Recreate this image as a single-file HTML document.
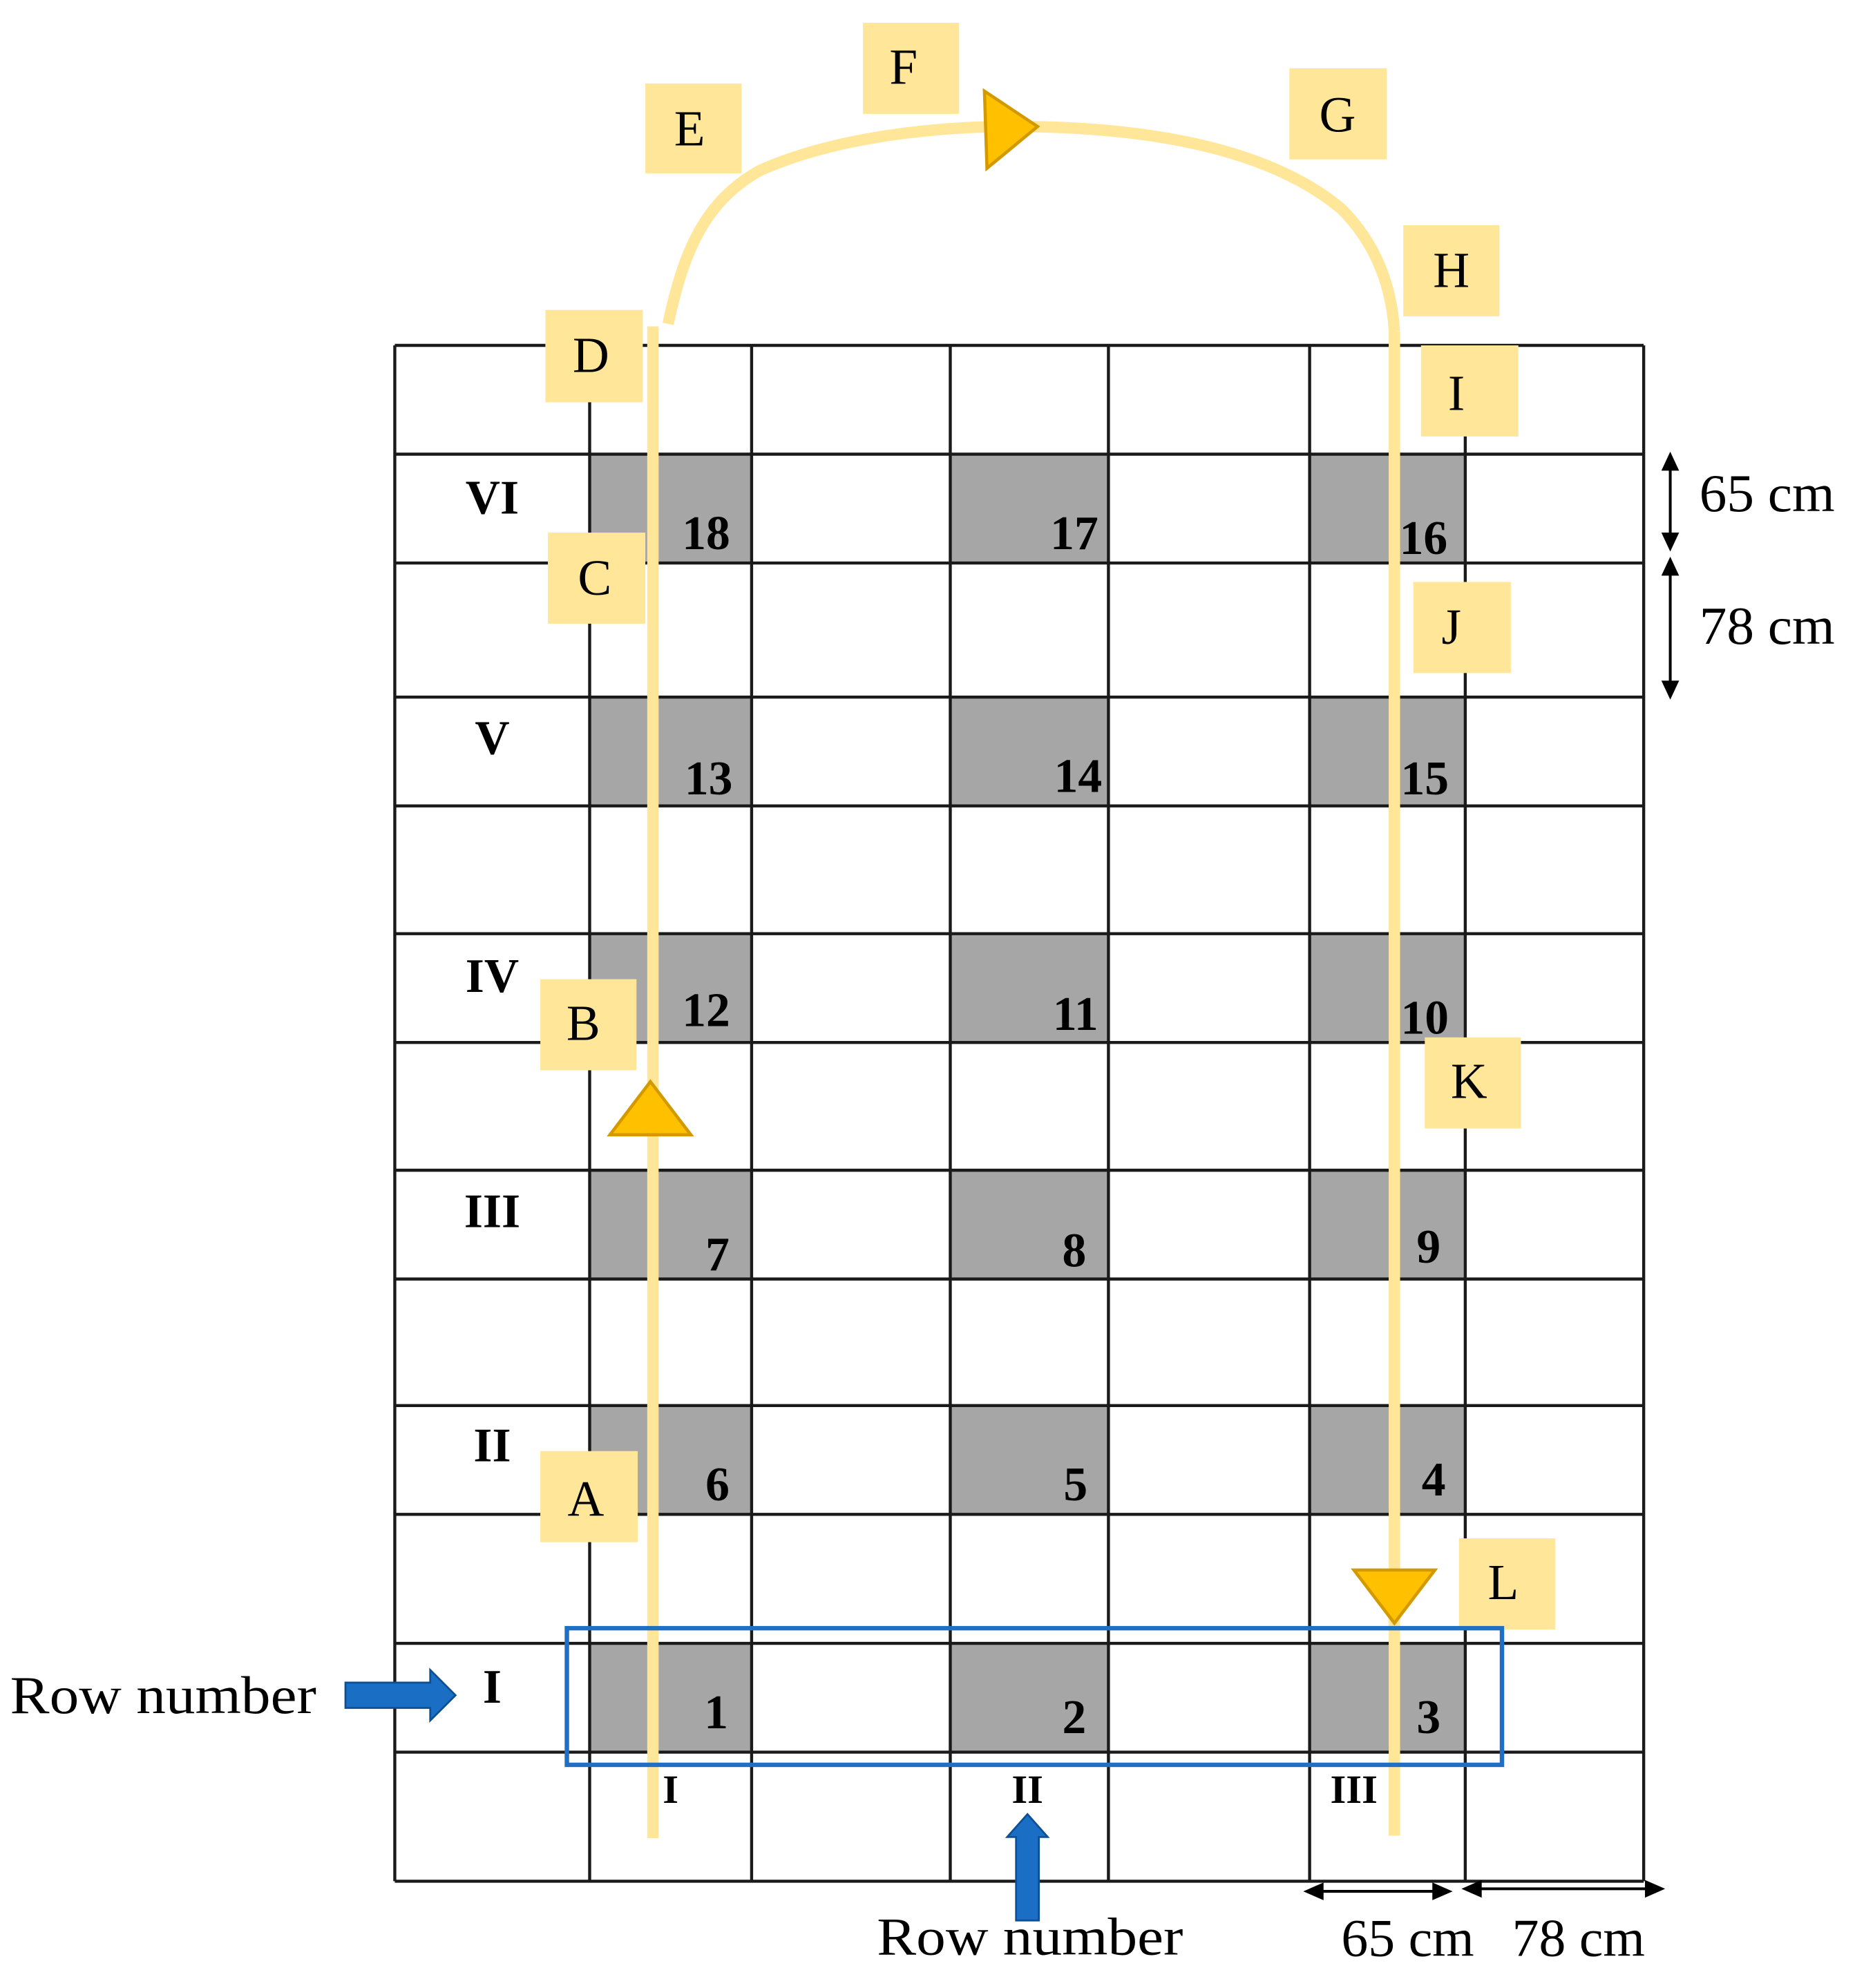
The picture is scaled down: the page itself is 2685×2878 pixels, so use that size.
<!DOCTYPE html>
<html><head><meta charset="utf-8"><style>
html,body{margin:0;padding:0;background:#fff;}
svg{display:block;}
text{font-family:"Liberation Serif",serif;}
</style></head><body>
<svg width="2685" height="2878" viewBox="0 0 1466 1571.4" xmlns="http://www.w3.org/2000/svg">
<rect width="1466" height="1572" fill="#fff"/>
<g fill="#a6a6a6">
<rect x="466" y="359" width="128" height="86"/><rect x="751" y="359" width="125" height="86"/><rect x="1035" y="359" width="123" height="86"/>
<rect x="466" y="551" width="128" height="86"/><rect x="751" y="551" width="125" height="86"/><rect x="1035" y="551" width="123" height="86"/>
<rect x="466" y="738" width="128" height="86"/><rect x="751" y="738" width="125" height="86"/><rect x="1035" y="738" width="123" height="86"/>
<rect x="466" y="925" width="128" height="86"/><rect x="751" y="925" width="125" height="86"/><rect x="1035" y="925" width="123" height="86"/>
<rect x="466" y="1111" width="128" height="86"/><rect x="751" y="1111" width="125" height="86"/><rect x="1035" y="1111" width="123" height="86"/>
<rect x="466" y="1299" width="128" height="86"/><rect x="751" y="1299" width="125" height="86"/><rect x="1035" y="1299" width="123" height="86"/>
</g>
<g stroke="#1a1a1a" stroke-width="2.4">
<line x1="312" y1="273" x2="312" y2="1487"/><line x1="466" y1="273" x2="466" y2="1487"/><line x1="594" y1="273" x2="594" y2="1487"/><line x1="751" y1="273" x2="751" y2="1487"/><line x1="876" y1="273" x2="876" y2="1487"/><line x1="1035" y1="273" x2="1035" y2="1487"/><line x1="1158" y1="273" x2="1158" y2="1487"/><line x1="1299" y1="273" x2="1299" y2="1487"/>
<line x1="312" y1="273" x2="1299" y2="273"/><line x1="312" y1="359" x2="1299" y2="359"/><line x1="312" y1="445" x2="1299" y2="445"/><line x1="312" y1="551" x2="1299" y2="551"/><line x1="312" y1="637" x2="1299" y2="637"/><line x1="312" y1="738" x2="1299" y2="738"/><line x1="312" y1="824" x2="1299" y2="824"/><line x1="312" y1="925" x2="1299" y2="925"/><line x1="312" y1="1011" x2="1299" y2="1011"/><line x1="312" y1="1111" x2="1299" y2="1111"/><line x1="312" y1="1197" x2="1299" y2="1197"/><line x1="312" y1="1299" x2="1299" y2="1299"/><line x1="312" y1="1385" x2="1299" y2="1385"/><line x1="312" y1="1487" x2="1299" y2="1487"/>
</g>
<g font-size="38" font-weight="bold" fill="#000" text-anchor="middle">
<text x="558" y="434">18</text><text x="849" y="434">17</text><text x="1125" y="438">16</text>
<text x="560" y="628">13</text><text x="852" y="626">14</text><text x="1126" y="628">15</text>
<text x="558" y="811">12</text><text x="850" y="814">11</text><text x="1126" y="817">10</text>
<text x="567" y="1004">7</text><text x="849" y="1001">8</text><text x="1129" y="998">9</text>
<text x="567" y="1186">6</text><text x="850" y="1186">5</text><text x="1133" y="1182">4</text>
<text x="566" y="1366">1</text><text x="849" y="1370">2</text><text x="1129" y="1370">3</text>
</g>
<g font-size="38" font-weight="bold" fill="#000" text-anchor="middle">
<text x="389" y="406">VI</text><text x="389" y="596">V</text><text x="389" y="784">IV</text><text x="389" y="970">III</text><text x="389" y="1155">II</text><text x="389" y="1346">I</text>
</g>
<g font-size="32" font-weight="bold" fill="#000" text-anchor="middle">
<text x="530" y="1425">I</text><text x="812" y="1425">II</text><text x="1070" y="1425">III</text>
</g>
<g stroke="#ffe699" stroke-width="9" fill="none">
<line x1="516" y1="258" x2="516" y2="1453"/>
<line x1="1102" y1="262" x2="1102" y2="1451"/>
<path d="M528,256 C540,200 556,160 600,135 C660,108 740,100 800,100 C900,100 1000,115 1060,165 C1090,195 1100,230 1102,262"/>
</g>
<g fill="#ffc000" stroke="#d39a00" stroke-width="2.5">
<polygon points="778,72 820,100 780,133"/>
<polygon points="514,855 546,897 482,897"/>
<polygon points="1070,1241 1134,1241 1102,1283"/>
</g>
<g fill="#ffe699">
<rect x="510" y="66" width="76" height="71"/><rect x="682" y="18" width="76" height="72"/><rect x="1019" y="54" width="77" height="72"/>
<rect x="1109" y="178" width="76" height="72"/><rect x="1123" y="273" width="77" height="72"/><rect x="431" y="245" width="77" height="73"/>
<rect x="433" y="421" width="77" height="72"/><rect x="1117" y="460" width="77" height="72"/><rect x="427" y="774" width="76" height="72"/>
<rect x="1126" y="820" width="76" height="72"/><rect x="427" y="1147" width="77" height="72"/><rect x="1153" y="1216" width="76" height="72"/>
</g>
<g font-size="40" fill="#000" text-anchor="middle">
<text x="545" y="115">E</text><text x="714" y="66">F</text><text x="1057" y="104">G</text>
<text x="1147" y="227">H</text><text x="1151" y="324">I</text><text x="467" y="294">D</text>
<text x="470" y="470">C</text><text x="1147" y="509">J</text><text x="461" y="822">B</text>
<text x="1161" y="868">K</text><text x="463" y="1198">A</text><text x="1188" y="1264">L</text>
</g>
<rect x="448" y="1287" width="739" height="108" fill="none" stroke="#1f6fc5" stroke-width="3.5"/>
<polygon points="273,1330 340,1330 340,1320 360,1340 340,1360 340,1350 273,1350" fill="#1a6fc4" stroke="#0d4f94" stroke-width="1.5"/>
<polygon points="803,1518 803,1452 796,1452 812,1434 828,1452 821,1452 821,1518" fill="#1a6fc4" stroke="#0d4f94" stroke-width="1.5"/>
<g font-size="42" fill="#000">
<text x="8" y="1354" textLength="242" lengthAdjust="spacingAndGlyphs">Row number</text>
<text x="693" y="1545" textLength="242" lengthAdjust="spacingAndGlyphs">Row number</text>
</g>
<g stroke="#000" stroke-width="2.2" fill="#000">
<line x1="1320" y1="368" x2="1320" y2="424"/>
<polygon points="1320,357 1313,372 1327,372" stroke="none"/>
<polygon points="1320,436 1313,421 1327,421" stroke="none"/>
<line x1="1320" y1="450" x2="1320" y2="542"/>
<polygon points="1320,440 1313,455 1327,455" stroke="none"/>
<polygon points="1320,553 1313,538 1327,538" stroke="none"/>
<line x1="1040" y1="1495" x2="1138" y2="1495"/>
<polygon points="1030,1495 1046,1488 1046,1502" stroke="none"/>
<polygon points="1148,1495 1132,1488 1132,1502" stroke="none"/>
<line x1="1165" y1="1493" x2="1305" y2="1493"/>
<polygon points="1155,1493 1171,1486 1171,1500" stroke="none"/>
<polygon points="1316,1493 1300,1486 1300,1500" stroke="none"/>
</g>
<g font-size="42" fill="#000">
<text x="1343" y="404" textLength="107" lengthAdjust="spacingAndGlyphs">65 cm</text>
<text x="1343" y="509" textLength="107" lengthAdjust="spacingAndGlyphs">78 cm</text>
<text x="1060" y="1546" textLength="105" lengthAdjust="spacingAndGlyphs">65 cm</text>
<text x="1195" y="1546" textLength="105" lengthAdjust="spacingAndGlyphs">78 cm</text>
</g>
</svg>
</body></html>
